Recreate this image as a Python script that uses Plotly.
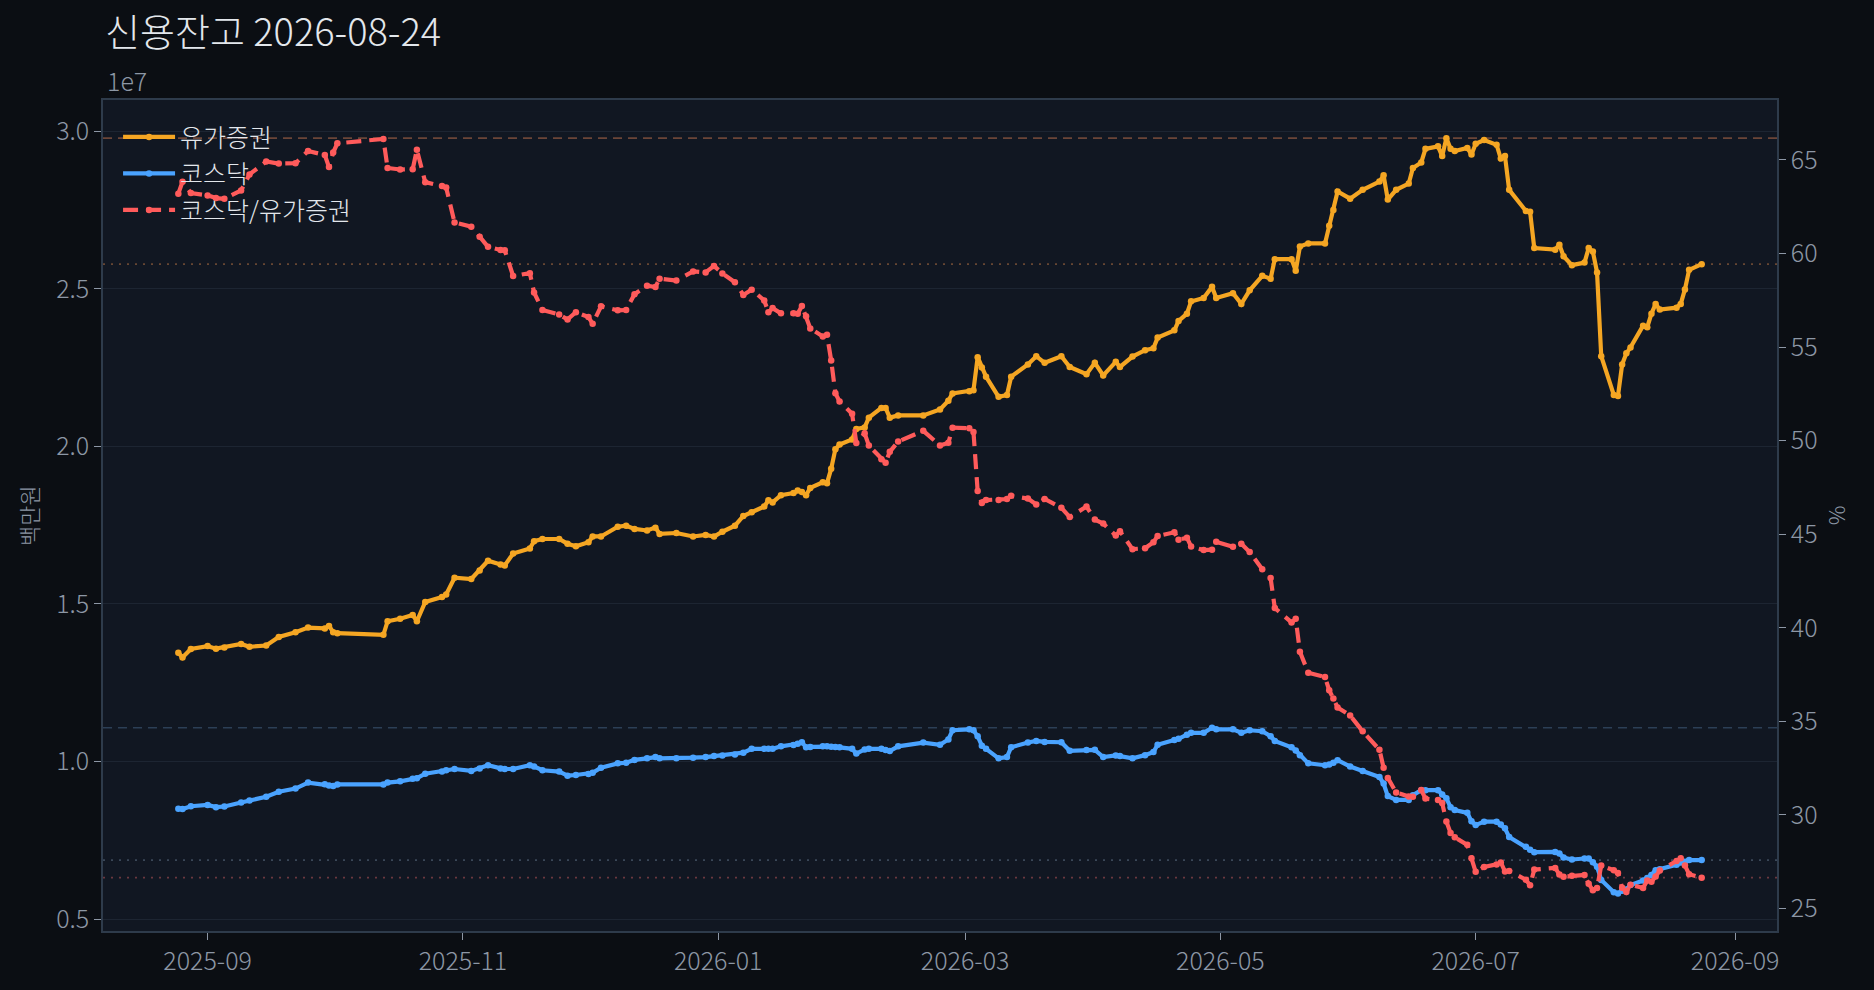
import plotly.graph_objects as go

# 신용잔고 (백만원 단위 / 1e6 로 적음)
dates = [
    '2025-08-25', '2025-08-26', '2025-08-28', '2025-09-01', '2025-09-03', '2025-09-05',
    '2025-09-09', '2025-09-11', '2025-09-15', '2025-09-18', '2025-09-22', '2025-09-25',
    '2025-09-29', '2025-09-30', '2025-10-01', '2025-10-02', '2025-10-13', '2025-10-14',
    '2025-10-17', '2025-10-20', '2025-10-21', '2025-10-23', '2025-10-27', '2025-10-28',
    '2025-10-30', '2025-11-03', '2025-11-05', '2025-11-07', '2025-11-10', '2025-11-11',
    '2025-11-13', '2025-11-17', '2025-11-18', '2025-11-20', '2025-11-24', '2025-11-26',
    '2025-11-28', '2025-12-01', '2025-12-02', '2025-12-04', '2025-12-08', '2025-12-10',
    '2025-12-12', '2025-12-15', '2025-12-17', '2025-12-18', '2025-12-22', '2025-12-26',
    '2025-12-29', '2025-12-31', '2026-01-02', '2026-01-05', '2026-01-07', '2026-01-09',
    '2026-01-12', '2026-01-13', '2026-01-14', '2026-01-16', '2026-01-19', '2026-01-20',
    '2026-01-21', '2026-01-22', '2026-01-23', '2026-01-26', '2026-01-27', '2026-01-28',
    '2026-01-29', '2026-01-30', '2026-02-02', '2026-02-03', '2026-02-05', '2026-02-06',
    '2026-02-09', '2026-02-10', '2026-02-11', '2026-02-13', '2026-02-19', '2026-02-23',
    '2026-02-25', '2026-02-26', '2026-03-02', '2026-03-03', '2026-03-04', '2026-03-05',
    '2026-03-06', '2026-03-09', '2026-03-11', '2026-03-12', '2026-03-16', '2026-03-18',
    '2026-03-20', '2026-03-24', '2026-03-26', '2026-03-30', '2026-04-01', '2026-04-03',
    '2026-04-06', '2026-04-07', '2026-04-10', '2026-04-13', '2026-04-15', '2026-04-16',
    '2026-04-20', '2026-04-21', '2026-04-23', '2026-04-24', '2026-04-27', '2026-04-29',
    '2026-04-30', '2026-05-04', '2026-05-06', '2026-05-08', '2026-05-11', '2026-05-13',
    '2026-05-14', '2026-05-18', '2026-05-19', '2026-05-20', '2026-05-22', '2026-05-26',
    '2026-05-27', '2026-05-28', '2026-05-29', '2026-06-01', '2026-06-04', '2026-06-08',
    '2026-06-09', '2026-06-10', '2026-06-12', '2026-06-15', '2026-06-16', '2026-06-18',
    '2026-06-19', '2026-06-22', '2026-06-23', '2026-06-24', '2026-06-25', '2026-06-26',
    '2026-06-29', '2026-06-30', '2026-07-01', '2026-07-03', '2026-07-06', '2026-07-07',
    '2026-07-08', '2026-07-09', '2026-07-13', '2026-07-14', '2026-07-15', '2026-07-20',
    '2026-07-21', '2026-07-22', '2026-07-24', '2026-07-27', '2026-07-28', '2026-07-29',
    '2026-07-30', '2026-07-31', '2026-08-03', '2026-08-04', '2026-08-05', '2026-08-06',
    '2026-08-07', '2026-08-10', '2026-08-11', '2026-08-12', '2026-08-13', '2026-08-14',
    '2026-08-18', '2026-08-19', '2026-08-20', '2026-08-21', '2026-08-24',
]

kospi = [
    13.45, 13.30, 13.57, 13.66, 13.58, 13.62,
    13.73, 13.64, 13.68, 13.95, 14.10, 14.25,
    14.22, 14.30, 14.10, 14.07, 14.02, 14.45,
    14.53, 14.65, 14.45, 15.06, 15.22, 15.30,
    15.83, 15.79, 16.06, 16.37, 16.25, 16.22,
    16.60, 16.76, 16.99, 17.06, 17.06, 16.91,
    16.83, 16.96, 17.14, 17.14, 17.45, 17.48,
    17.38, 17.33, 17.42, 17.22, 17.25, 17.14,
    17.19, 17.14, 17.29, 17.48, 17.79, 17.91,
    18.09, 18.29, 18.22, 18.45, 18.52, 18.60,
    18.55, 18.45, 18.68, 18.86, 18.83, 19.29,
    19.91, 20.06, 20.22, 20.55, 20.60, 20.91,
    21.22, 21.22, 20.91, 20.98, 20.98, 21.17,
    21.45, 21.68, 21.75, 21.78, 22.83, 22.50,
    22.21, 21.57, 21.63, 22.21, 22.60, 22.86,
    22.65, 22.86, 22.52, 22.29, 22.65, 22.25,
    22.68, 22.52, 22.85, 23.05, 23.11, 23.45,
    23.68, 23.98, 24.21, 24.60, 24.71, 25.06,
    24.71, 24.86, 24.52, 24.95, 25.41, 25.32,
    25.94, 25.94, 25.57, 26.34, 26.44, 26.44,
    27.00, 27.50, 28.09, 27.86, 28.14, 28.40,
    28.60, 27.83, 28.14, 28.34, 28.83, 29.01,
    29.44, 29.52, 29.21, 29.78, 29.44, 29.37,
    29.47, 29.26, 29.60, 29.72, 29.57, 29.13,
    29.21, 28.14, 27.47, 27.44, 26.29, 26.24,
    26.40, 26.03, 25.75, 25.83, 26.29, 26.18,
    25.52, 22.86, 21.63, 21.60, 22.60, 22.95,
    23.14, 23.83, 23.78, 24.21, 24.52, 24.34,
    24.40, 24.52, 24.98, 25.60, 25.78,
]

kosdaq = [
    8.50, 8.49, 8.58, 8.62, 8.55, 8.57,
    8.70, 8.76, 8.88, 9.04, 9.14, 9.33,
    9.28, 9.24, 9.22, 9.27, 9.27, 9.33,
    9.37, 9.45, 9.47, 9.61, 9.68, 9.72,
    9.76, 9.70, 9.78, 9.88, 9.78, 9.76,
    9.76, 9.88, 9.84, 9.72, 9.68, 9.55,
    9.57, 9.60, 9.64, 9.80, 9.94, 9.96,
    10.05, 10.10, 10.14, 10.10, 10.10, 10.12,
    10.14, 10.17, 10.19, 10.22, 10.28, 10.40,
    10.40, 10.40, 10.40, 10.48, 10.52, 10.56,
    10.61, 10.45, 10.46, 10.48, 10.48, 10.47,
    10.46, 10.45, 10.40, 10.25, 10.38, 10.40,
    10.40, 10.36, 10.33, 10.48, 10.60, 10.53,
    10.70, 10.99, 11.02, 10.99, 10.80, 10.50,
    10.40, 10.10, 10.14, 10.45, 10.60, 10.65,
    10.62, 10.61, 10.34, 10.36, 10.37, 10.14,
    10.19, 10.17, 10.10, 10.20, 10.30, 10.53,
    10.68, 10.72, 10.85, 10.91, 10.91, 11.07,
    11.02, 11.02, 10.91, 10.99, 10.96, 10.80,
    10.65, 10.45, 10.35, 10.20, 9.94, 9.88,
    9.90, 9.96, 10.04, 9.84, 9.70, 9.51,
    9.30, 8.90, 8.78, 8.78, 8.93, 9.09,
    9.09, 9.09, 8.95, 8.83, 8.55, 8.46,
    8.37, 8.10, 7.98, 8.09, 8.09, 8.00,
    7.88, 7.60, 7.29, 7.20, 7.12, 7.13,
    7.08, 6.95, 6.89, 6.92, 6.92, 6.80,
    6.66, 6.24, 5.85, 5.81, 5.90, 5.94,
    6.08, 6.22, 6.30, 6.40, 6.55, 6.58,
    6.72, 6.79, 6.82, 6.87, 6.87,
]

y_ticks = [0.5, 1.0, 1.5, 2.0, 2.5, 3.0]   # x 1e7

# colours
BG = '#0b0e13'
PLOT_BG = '#111722'
GRID = '#1d2532'
FRAME = '#2e3b4b'
TICK = '#8d97a5'
TXT = '#e3e7ec'
ORANGE = '#f5a623'
BLUE = '#4aa3ff'
RED = '#ff5b5b'
FONT = 'Noto Sans CJK KR'
FS = 25

kospi_won = [v * 1e6 for v in kospi]
kosdaq_won = [v * 1e6 for v in kosdaq]
ratio = [q / k * 100 for q, k in zip(kosdaq, kospi)]

fig = go.Figure()

fig.add_trace(go.Scatter(
    x=dates, y=kospi_won, name='유가증권', mode='lines+markers',
    line=dict(color=ORANGE, width=4.2), marker=dict(size=6.5, color=ORANGE),
    legendgroup='a'))
fig.add_trace(go.Scatter(
    x=dates, y=kosdaq_won, name='코스닥', mode='lines+markers',
    line=dict(color=BLUE, width=4.2), marker=dict(size=6.5, color=BLUE),
    legendgroup='b'))
fig.add_trace(go.Scatter(
    x=dates, y=ratio, name='코스닥/유가증권', mode='lines+markers', yaxis='y2',
    line=dict(color=RED, width=4.2, dash='15px,8px'), marker=dict(size=6.5, color=RED),
    legendgroup='c'))

# reference lines: max / latest
def hline(y, color, dash, yref='y'):
    return dict(type='line', xref='paper', x0=0, x1=1, yref=yref, y0=y, y1=y,
                line=dict(color=color, width=1.7, dash=dash), layer='below')

shapes = [
    hline(max(kospi_won), 'rgba(245,140,90,0.40)', '9px,6px'),
    hline(kospi_won[-1], 'rgba(245,150,80,0.38)', '2px,6px'),
    hline(max(kosdaq_won), 'rgba(90,130,170,0.38)', '9px,6px'),
    hline(kosdaq_won[-1], 'rgba(120,140,165,0.42)', '2px,6px'),
    hline(ratio[-1], 'rgba(255,110,110,0.38)', '2px,6px', yref='y2'),
]

tickfont = dict(size=FS, color=TICK, weight=300)

fig.update_layout(
    width=1874, height=990,
    paper_bgcolor=BG, plot_bgcolor=PLOT_BG,
    font=dict(family=FONT, color=TICK, size=FS),
    margin=dict(l=103, r=97, t=100, b=59),
    title=dict(text='신용잔고 2026-08-24', x=105 / 1874, xanchor='left',
               y=1 - 33 / 990, yanchor='middle',
               font=dict(size=38, color=TXT, family=FONT, weight=300)),
    showlegend=True,
    legend=dict(x=0.009, y=0.983, xanchor='left', yanchor='top',
                bgcolor='rgba(0,0,0,0)', font=dict(size=FS, color=TXT, weight=300),
                tracegroupgap=1, itemwidth=52),
    shapes=shapes,
    xaxis=dict(
        type='date', range=['2025-08-07', '2026-09-11'],
        tick0='2025-09-01', dtick='M2', tickformat='%Y-%m',
        showgrid=False, zeroline=False,
        showline=True, linecolor=FRAME, linewidth=1.5, mirror=True,
        ticks='outside', ticklen=7, tickcolor=TICK, tickwidth=1.3,
        tickfont=tickfont),
    yaxis=dict(
        range=[4.62e6, 30.99e6],
        tickvals=[v * 1e7 for v in y_ticks], ticktext=[f'{v:.1f}' for v in y_ticks],
        showgrid=True, gridcolor=GRID, gridwidth=1.3, zeroline=False,
        showline=True, linecolor=FRAME, linewidth=1.5, mirror=True,
        ticks='outside', ticklen=7, tickcolor=TICK, tickwidth=1.3,
        tickfont=tickfont,
        title=dict(text='백만원', font=dict(size=22, color=TICK, weight=300), standoff=12)),
    yaxis2=dict(
        overlaying='y', side='right', range=[23.8, 68.2],
        tick0=25, dtick=5, showgrid=False, zeroline=False,
        showline=True, linecolor=FRAME, linewidth=1.5,
        ticks='outside', ticklen=7, tickcolor=TICK, tickwidth=1.3,
        tickfont=tickfont,
        title=dict(text='%', font=dict(size=22, color=TICK, weight=300), standoff=13)),
    annotations=[dict(text='1e7', xref='paper', yref='paper', x=0.001, y=1.0,
                      xanchor='left', yanchor='bottom', showarrow=False,
                      font=dict(size=FS, color=TICK, weight=300))],
)

fig.write_html(
    'out.html',
    config={'displayModeBar': False},
    post_script="document.body.style.margin='0';document.body.style.background='#0b0e13';")
